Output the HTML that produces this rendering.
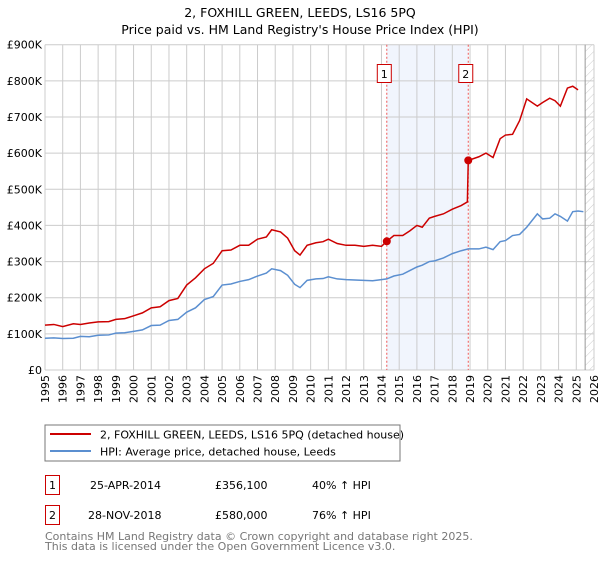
<!DOCTYPE html>
<html><head><meta charset="utf-8"><style>
body{margin:0;background:#fff;width:600px;height:560px;overflow:hidden;font-family:"DejaVu Sans","Liberation Sans",sans-serif;}
svg text{font-family:"DejaVu Sans","Liberation Sans",sans-serif;}
</style></head><body>
<svg id="chart" width="600" height="560">
<defs><pattern id="hatch" width="6" height="6" patternUnits="userSpaceOnUse" patternTransform="rotate(45)"><line x1="0" y1="0" x2="0" y2="6" stroke="#ccc" stroke-width="1"/></pattern></defs>
<text x="300" y="17" text-anchor="middle" font-size="12.5" fill="#000">2, FOXHILL GREEN, LEEDS, LS16 5PQ</text>
<text x="300" y="34" text-anchor="middle" font-size="12.5" fill="#000">Price paid vs. HM Land Registry's House Price Index (HPI)</text>
<g id="grid"></g><g id="marks"></g><g id="axes"></g>
<rect x="45" y="425" width="355" height="36" fill="#fff" stroke="#777"/>
<line x1="50" y1="434" x2="91" y2="434" stroke="#cc0000" stroke-width="2"/>
<text x="100" y="438.5" font-size="11">2, FOXHILL GREEN, LEEDS, LS16 5PQ (detached house)</text>
<line x1="50" y1="451" x2="91" y2="451" stroke="#5b8fd0" stroke-width="2"/>
<text x="100" y="455.5" font-size="11">HPI: Average price, detached house, Leeds</text>
<g font-size="11">
<rect x="45.5" y="475.5" width="14" height="19" fill="#fff" stroke="#cc0000"/>
<text x="52.5" y="489" text-anchor="middle">1</text>
<text x="90" y="489">25-APR-2014</text><text x="215" y="489">£356,100</text><text x="312" y="489">40% ↑ HPI</text></g>
<g font-size="11">
<rect x="45.5" y="505.5" width="14" height="19" fill="#fff" stroke="#cc0000"/>
<text x="52.5" y="519" text-anchor="middle">2</text>
<text x="88" y="519">28-NOV-2018</text><text x="215" y="519">£580,000</text><text x="312" y="519">76% ↑ HPI</text></g>
<text x="45" y="540" font-size="11" fill="#777">Contains HM Land Registry data © Crown copyright and database right 2025.</text>
<text x="45" y="550" font-size="11" fill="#777">This data is licensed under the Open Government Licence v3.0.</text>
</svg>
<script>
const yTicks=[0,100,200,300,400,500,600,700,800,900];
const yTickLabels=["£0","£100K","£200K","£300K","£400K","£500K","£600K","£700K","£800K","£900K"];
const xYears=[1995,1996,1997,1998,1999,2000,2001,2002,2003,2004,2005,2006,2007,2008,2009,2010,2011,2012,2013,2014,2015,2016,2017,2018,2019,2020,2021,2022,2023,2024,2025,2026];
const hpiDates=[1995,1995.5,1996,1996.6,1997,1997.5,1998,1998.6,1999,1999.5,2000,2000.5,2001,2001.5,2002,2002.5,2003,2003.5,2004,2004.5,2005,2005.5,2006,2006.5,2007,2007.5,2007.8,2008.3,2008.7,2009.1,2009.4,2009.8,2010.3,2010.7,2011,2011.5,2012,2012.5,2013,2013.5,2014,2014.3,2014.7,2015.2,2015.6,2016,2016.3,2016.7,2017,2017.5,2018,2018.5,2018.9,2019.5,2019.9,2020.3,2020.7,2021,2021.4,2021.8,2022.2,2022.8,2023.1,2023.5,2023.8,2024.1,2024.5,2024.8,2025.1,2025.4];
const hpiValues=[88,89,87,88,93,92,96,97,102,103,107,111,123,124,137,140,160,172,195,203,235,238,245,250,260,268,280,275,262,237,228,248,252,253,258,252,250,249,248,247,250,252,260,265,275,285,290,300,302,310,322,330,335,335,340,333,355,358,372,375,395,432,418,420,432,425,412,438,440,438];
const saleDates=[1995,1995.5,1996,1996.6,1997,1997.5,1998,1998.6,1999,1999.5,2000,2000.5,2001,2001.5,2002,2002.5,2003,2003.5,2004,2004.5,2005,2005.5,2006,2006.5,2007,2007.5,2007.8,2008.3,2008.7,2009.1,2009.4,2009.8,2010.3,2010.7,2011,2011.5,2012,2012.5,2013,2013.5,2014,2014.3,2014.7,2015.2,2015.6,2016,2016.3,2016.7,2017,2017.5,2018,2018.5,2018.85,2018.9,2019.5,2019.9,2020.3,2020.7,2021,2021.4,2021.8,2022.2,2022.8,2023.1,2023.5,2023.8,2024.1,2024.5,2024.8,2025.1,2025.4];
const saleValues=[124,126,120,128,126,130,133,134,140,142,150,158,172,175,192,198,235,255,280,295,330,332,345,345,362,368,388,382,365,330,318,345,352,355,362,350,345,345,342,345,342,356,372,372,385,400,395,420,425,432,445,455,465,580,590,600,588,640,650,652,690,750,730,740,752,745,730,780,785,775];
const sales=[{d:2014.3,v:356.1,label:"1"},{d:2018.9,v:580,label:"2"}];
const X0=45,X1=594,Y0=370,Y1=44.7;
const xs=d=>X0+(d-1995)/(2026-1995)*(X1-X0);
const ys=v=>Y0-v/900*(Y0-Y1);
const NS="http://www.w3.org/2000/svg";
function mk(t,a,p){const e=document.createElementNS(NS,t);for(const k in a)e.setAttribute(k,a[k]);p.appendChild(e);return e;}
const grid=document.getElementById('grid'),marks=document.getElementById('marks'),axes=document.getElementById('axes');
mk('rect',{x:xs(sales[0].d),y:Y1,width:xs(sales[1].d)-xs(sales[0].d),height:Y0-Y1,fill:'#eef3fc',opacity:0.8},grid);
mk('rect',{x:xs(2025.5),y:Y1,width:X1-xs(2025.5),height:Y0-Y1,fill:'url(#hatch)'},grid);
xYears.forEach(y=>{const l=mk('line',{x1:xs(y),x2:xs(y),y1:Y1,y2:Y0,stroke:'#ccc','stroke-width':1},grid);


const t=mk('text',{x:0,y:0,'font-size':11,'text-anchor':'end',transform:`translate(${xs(y)+4},${Y0+5}) rotate(-90)`},axes);t.textContent=y;

});
yTicks.forEach((v,i)=>{const l=mk('line',{x1:X0,x2:X1,y1:ys(v),y2:ys(v),stroke:'#ccc','stroke-width':1},grid);


const t=mk('text',{x:X0-3,y:ys(v)+4,'font-size':11,'text-anchor':'end'},axes);t.textContent=yTickLabels[i];

});
mk('line',{x1:xs(2025.5),x2:xs(2025.5),y1:Y1,y2:Y0,stroke:'#999','stroke-width':1},grid);
sales.forEach(s=>{const l=mk('line',{x1:xs(s.d),x2:xs(s.d),y1:Y1,y2:Y0,stroke:'#e55','stroke-width':1,'stroke-dasharray':'2,2'},grid);


const r=mk('rect',{x:xs(s.d)-9.5,y:64.5,width:14,height:18,fill:'#fff',stroke:'#cc0000'},axes);


const t=mk('text',{x:xs(s.d)-2.5,y:78,'font-size':11,'text-anchor':'middle'},axes);t.textContent=s.label;

});
const hp=mk('polyline',{points:hpiDates.map((d,i)=>xs(d)+','+ys(hpiValues[i])).join(' '),fill:'none',stroke:'#5b8fd0','stroke-width':1.5},marks);


const rp=mk('polyline',{points:saleDates.map((d,i)=>xs(d)+','+ys(saleValues[i])).join(' '),fill:'none',stroke:'#cc0000','stroke-width':1.5},marks);


sales.forEach(s=>{const c=mk('circle',{cx:xs(s.d),cy:ys(s.v),r:4,fill:'#cc0000'},marks);

});
</script>
</body></html>
